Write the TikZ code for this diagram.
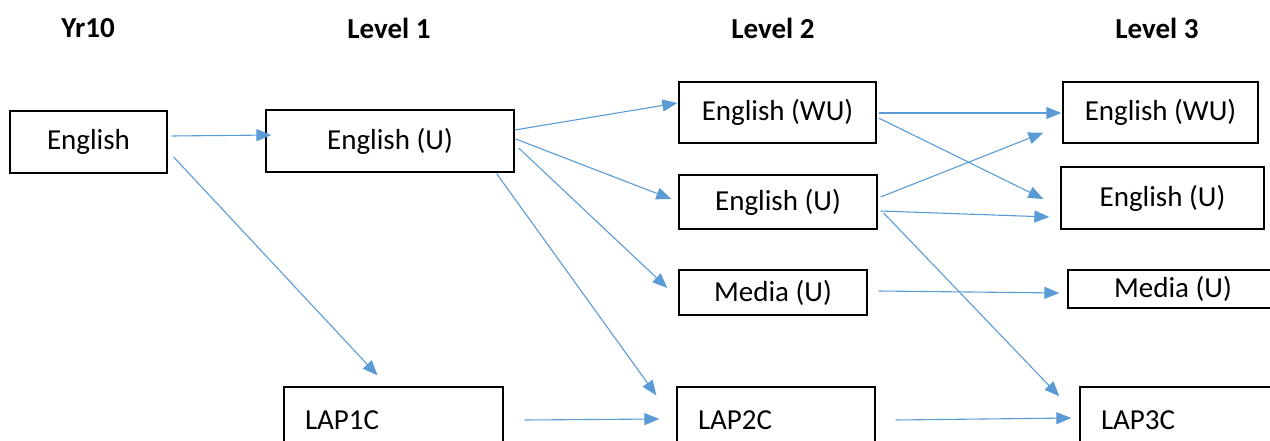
\documentclass[tikz,border=0pt]{standalone}
\usepackage{fontspec}
\setmainfont{Carlito}
\usetikzlibrary{arrows.meta}
\definecolor{linkblue}{RGB}{91,155,213}

\begin{document}
\begin{tikzpicture}[x=1pt, y=-1pt,
  box/.style={draw=black, line width=1.3pt, inner sep=0pt,
    font=\fontsize{29}{35}\selectfont},
  lapbox/.style={box, align=left, inner xsep=21pt, minimum height=66pt},
  head/.style={font=\fontsize{29}{35}\selectfont\bfseries},
  link/.style={draw=linkblue, line width=1.1pt,
    -{Triangle[length=15pt, width=12pt]}}]

  \useasboundingbox (0,0) rectangle (1270,441);

  \newcommand\YHEAD{28}
  \newcommand\YLAP{420}

  % headings
  \node[head] (hyr) at (88,\YHEAD) {Yr10};
  \node[head] (hla) at (389,\YHEAD) {Level 1};
  \node[head] (hlb) at (773,\YHEAD) {Level 2};
  \node[head] (hlc) at (1157,\YHEAD) {Level 3};

  % Yr10 and level 1
  \node[box, minimum width=157pt, minimum height=62pt] (eng) at (88.5,142) {English};
  \node[box, minimum width=248pt, minimum height=62pt] (engUa) at (390,141) {English (U)};
  \node[lapbox, text width=177pt] (lapa) at (393.5,\YLAP) {LAP1C};

  % level 2
  \node[box, minimum width=197pt, minimum height=61pt] (engWUb) at (777.5,112.5) {English (WU)};
  \node[box, minimum width=198pt, minimum height=54pt] (engUb) at (778,202) {English (U)};
  \node[box, minimum width=188pt, minimum height=45pt] (mediab) at (773,292.5) {Media (U)};
  \node[lapbox, text width=156pt] (lapb) at (776,\YLAP) {LAP2C};

  % level 3
  \node[box, minimum width=195pt, minimum height=61pt] (engWUc) at (1160.5,112.5) {English (WU)};
  \node[box, minimum width=203pt, minimum height=62pt] (engUc) at (1162.5,198) {English (U)};
  \node[box, minimum width=210pt, minimum height=38pt] (mediac) at (1173,289) {Media (U)};
  \node[lapbox, text width=168pt] (lapc) at (1185,\YLAP) {LAP3C};

  % Yr10 -> level 1
  \draw[link] ([shift={(4,-6)}]eng.east) -- ([shift={(6,-6)}]engUa.west);
  \draw[link] ([shift={(6,15)}]eng.east) -- ([shift={(-16,-11)}]lapa.north);

  % level 1 -> level 2
  \draw[link] ([shift={(0,-11)}]engUa.east) -- ([shift={(-1,-9.5)}]engWUb.west);
  \draw[link] ([shift={(1,-2)}]engUa.east) -- ([shift={(-7,-3)}]engUb.west);
  \draw[link] ([shift={(4,7)}]engUa.east) -- ([shift={(-11,-4.5)}]mediab.west);
  \draw[link] ([shift={(-18,1)}]engUa.south east) -- ([shift={(-20,9)}]lapb.north west);
  \draw[link] ([shift={(21,0)}]lapa.east) -- ([shift={(-17,-1)}]lapb.west);

  % level 2 -> level 3
  \draw[link] ([shift={(2,0.5)}]engWUb.east) -- ([shift={(-1,0.5)}]engWUc.west);
  \draw[link] ([shift={(2,5.5)}]engWUb.east) -- ([shift={(-17,1)}]engUc.west);
  \draw[link] ([shift={(3,-5)}]engUb.east) -- ([shift={(-19,-11)}]engWUc.south west);
  \draw[link] ([shift={(3,9)}]engUb.east) -- ([shift={(-11,19)}]engUc.west);
  \draw[link] ([shift={(6,11)}]engUb.east) -- ([shift={(-20,10)}]lapc.north west);
  \draw[link] ([shift={(11,-1.5)}]mediab.east) -- ([shift={(-8,4)}]mediac.west);
  \draw[link] ([shift={(20,0)}]lapb.east) -- ([shift={(-8,-2)}]lapc.west);

\end{tikzpicture}
\end{document}
